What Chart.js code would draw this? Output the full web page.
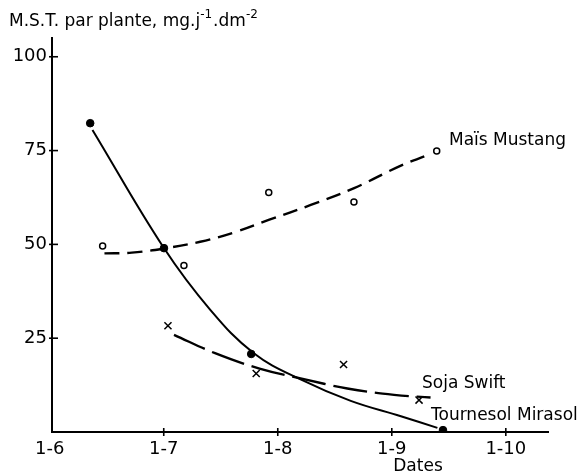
<!DOCTYPE html>
<html>
<head>
<meta charset="utf-8">
<script src="https://cdn.jsdelivr.net/npm/chart.js@4.4.1/dist/chart.umd.min.js"></script>
<style>
  html, body { margin: 0; padding: 0; background: #fff; }
  #wrap { width: 581px; height: 476px; position: relative; }
</style>
</head>
<body>
<div id="wrap"><canvas id="chart"></canvas></div>
<script>
/* ── Data (x = months since 1 June, y = M.S.T.) ───────────── */
const xTickValues = [0, 1, 2, 3, 4];
const xTickLabels = ['1-6', '1-7', '1-8', '1-9', '1-10'];
const yTickValues = [25, 50, 75, 100];

// measured points
const tournesolX = [0.355, 1.002, 1.767, 3.449];
const tournesolY = [82.3, 49.0, 20.8, 0.5];
const maisX      = [0.464, 1.177, 1.921, 2.668, 3.394];
const maisY      = [49.6, 44.4, 63.8, 61.3, 74.9];
const sojaX      = [1.037, 1.811, 2.577, 3.239];
const sojaY      = [28.3, 15.6, 18.0, 8.5];

// fitted curves
const tournesolCurveX = [0.375, 1.0, 1.41, 1.79, 2.20, 2.64, 3.08, 3.40];
const tournesolCurveY = [80.5, 49.1, 32.5, 21.0, 14.0, 8.3, 4.2, 1.1];
const maisCurveX      = [0.48, 0.72, 1.0, 1.32, 1.62, 1.92, 2.29, 2.67, 3.08, 3.30];
const maisCurveY      = [47.6, 47.8, 48.9, 50.7, 53.2, 56.5, 60.5, 65.0, 71.0, 73.6];
const sojaCurveX      = [1.09, 1.45, 1.84, 2.20, 2.61, 3.02, 3.34];
const sojaCurveY      = [25.9, 21.0, 16.9, 14.3, 11.6, 9.9, 9.2];

const pts = (xs, ys) => xs.map((x, i) => ({ x, y: ys[i] }));

const FONT = '"DejaVu Sans", sans-serif';

/* ── Plugin: crossing tick marks + free texts ─────────────── */
const decorations = {
  id: 'decorations',
  afterDraw(chart) {
    const { ctx, chartArea, scales } = chart;
    const xs = scales.x, ys = scales.y;
    ctx.save();
    ctx.strokeStyle = '#000';
    ctx.lineWidth = 1.6;
    yTickValues.forEach(v => {
      const py = ys.getPixelForValue(v);
      ctx.beginPath();
      ctx.moveTo(chartArea.left - 3, py);
      ctx.lineTo(chartArea.left + 6, py);
      ctx.stroke();
    });
    xTickValues.slice(1).forEach(v => {
      const px = xs.getPixelForValue(v);
      ctx.beginPath();
      ctx.moveTo(px, chartArea.bottom - 4);
      ctx.lineTo(px, chartArea.bottom + 4);
      ctx.stroke();
    });

    ctx.fillStyle = '#000';
    ctx.textBaseline = 'middle';
    ctx.textAlign = 'left';

    // series names
    ctx.font = '17px ' + FONT;
    ctx.fillText('Maïs Mustang', 449, 141);
    ctx.fillText('Soja Swift', 422, 384);
    ctx.fillText('Tournesol Mirasol', 431, 416);

    // x axis title
    ctx.textAlign = 'center';
    ctx.fillText('Dates', 418, 467);

    // y axis title with superscripts
    ctx.textAlign = 'left';
    const parts = [
      ['M.S.T. par plante, mg.j', false],
      ['-1', true],
      ['.dm', false],
      ['-2', true]
    ];
    let x = 9;
    parts.forEach(([t, sup]) => {
      ctx.font = (sup ? '12px ' : '17px ') + FONT;
      ctx.fillText(t, x, sup ? 15 : 22);
      x += ctx.measureText(t).width + (sup ? 1 : 0);
    });
    ctx.restore();
  }
};

/* ── Chart ────────────────────────────────────────────────── */
new Chart(document.getElementById('chart'), {
  type: 'scatter',
  data: {
    datasets: [
      {
        label: 'Tournesol courbe',
        data: pts(tournesolCurveX, tournesolCurveY),
        showLine: true, pointRadius: 0,
        borderColor: '#000', borderWidth: 2,
        tension: 0.4
      },
      {
        label: 'Maïs courbe',
        data: pts(maisCurveX, maisCurveY),
        showLine: true, pointRadius: 0,
        borderColor: '#000', borderWidth: 2.4,
        borderDash: [15, 8],
        tension: 0.4
      },
      {
        label: 'Soja courbe',
        data: pts(sojaCurveX, sojaCurveY),
        showLine: true, pointRadius: 0,
        borderColor: '#000', borderWidth: 2.4,
        borderDash: [34, 8],
        tension: 0.4
      },
      {
        label: 'Tournesol Mirasol',
        data: pts(tournesolX, tournesolY),
        pointStyle: 'circle', pointRadius: 3.8,
        backgroundColor: '#000', borderColor: '#000', borderWidth: 1
      },
      {
        label: 'Maïs Mustang',
        data: pts(maisX, maisY),
        pointStyle: 'circle', pointRadius: 3,
        backgroundColor: '#fff', borderColor: '#000', borderWidth: 1.5
      },
      {
        label: 'Soja Swift',
        data: pts(sojaX, sojaY),
        pointStyle: 'crossRot', pointRadius: 5,
        borderColor: '#000', borderWidth: 1.5
      }
    ]
  },
  options: {
    responsive: true,
    maintainAspectRatio: false,
    animation: false,
    layout: { padding: { top: 38, right: 33, left: 0, bottom: 0 } },
    plugins: { legend: { display: false }, tooltip: { enabled: false } },
    scales: {
      x: {
        type: 'linear',
        min: 0.02, max: 4.37,
        afterBuildTicks: s => { s.ticks = xTickValues.map(v => ({ value: v })); },
        afterFit: s => { s.height = 44; },
        grid: { display: false, drawTicks: false },
        border: { display: true, color: '#000', width: 2 },
        ticks: {
          padding: 7,
          color: '#000',
          font: { size: 18, family: FONT },
          callback: v => xTickLabels[xTickValues.indexOf(v)] ?? ''
        }
      },
      y: {
        type: 'linear',
        min: 0, max: 105,
        afterBuildTicks: s => { s.ticks = yTickValues.map(v => ({ value: v })); },
        afterFit: s => { s.width = 52; },
        grid: { display: false, drawTicks: false },
        border: { display: true, color: '#000', width: 2 },
        ticks: {
          padding: 5,
          color: '#000',
          font: { size: 18, family: FONT },
          callback: v => String(v)
        }
      }
    }
  },
  plugins: [decorations]
});
</script>
</body>
</html>
